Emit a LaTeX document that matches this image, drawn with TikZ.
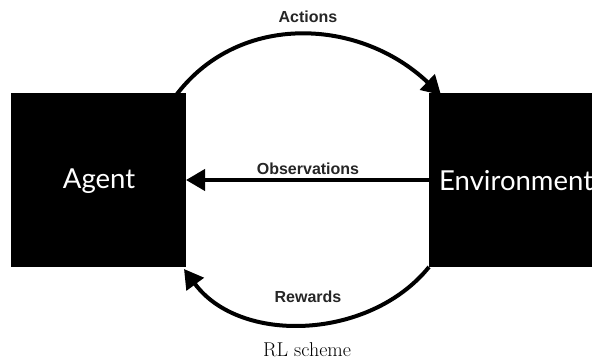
\documentclass[tikz,border=0pt]{standalone}
\usepackage{fontspec}
\setmainfont{Latin Modern Roman}
\newfontfamily\labelfont{Liberation Sans}
\newfontfamily\boxfont{Lato}
\usetikzlibrary{arrows.meta}
\tikzset{
  blackbox/.style={fill=black, draw=none},
  boxtext/.style={text=white, font=\boxfont\fontsize{27.5}{32}\selectfont, inner sep=0pt},
  flowlabel/.style={font=\labelfont\bfseries\fontsize{16}{19}\selectfont, text=black!85, inner sep=0pt},
  flow/.style={line width=4pt, -{Triangle[length=19pt,width=21pt]}},
}
\begin{document}
\begin{tikzpicture}[x=1pt,y=-1pt]
\useasboundingbox (0,0) rectangle (592,363);
\fill[white] (0,0) rectangle (592,363);
% boxes
\path[blackbox] (11,93) rectangle (186,267);
\path[blackbox] (429,93) rectangle (592,267);
\coordinate (agentTR) at (177,94);
\coordinate (agentBR) at (184,269);
\coordinate (agentE) at (186,180);
\coordinate (envTL) at (441,95);
\coordinate (envBL) at (429,267);
\coordinate (envW) at (429,180);
\node[boxtext] (agent) at (99,181) {Agent};
\node[boxtext, anchor=west] (env) at (439,181) {Environment};
% arrows
\draw[flow] (agentTR) .. controls (240,12) and (360,18) .. (envTL);
\draw[flow] (envW) -- (agentE);
\draw[flow] (envBL) .. controls (370,340) and (240,345) .. (agentBR);
% labels
\node[flowlabel] (actions) at (308,17) {Actions};
\node[flowlabel] (obs) at (308,169) {Observations};
\node[flowlabel] (rew) at (308,297) {Rewards};
\node[font=\fontsize{20}{24}\selectfont, inner sep=0pt] (caption) at (307,350) {RL scheme};
\end{tikzpicture}
\end{document}
